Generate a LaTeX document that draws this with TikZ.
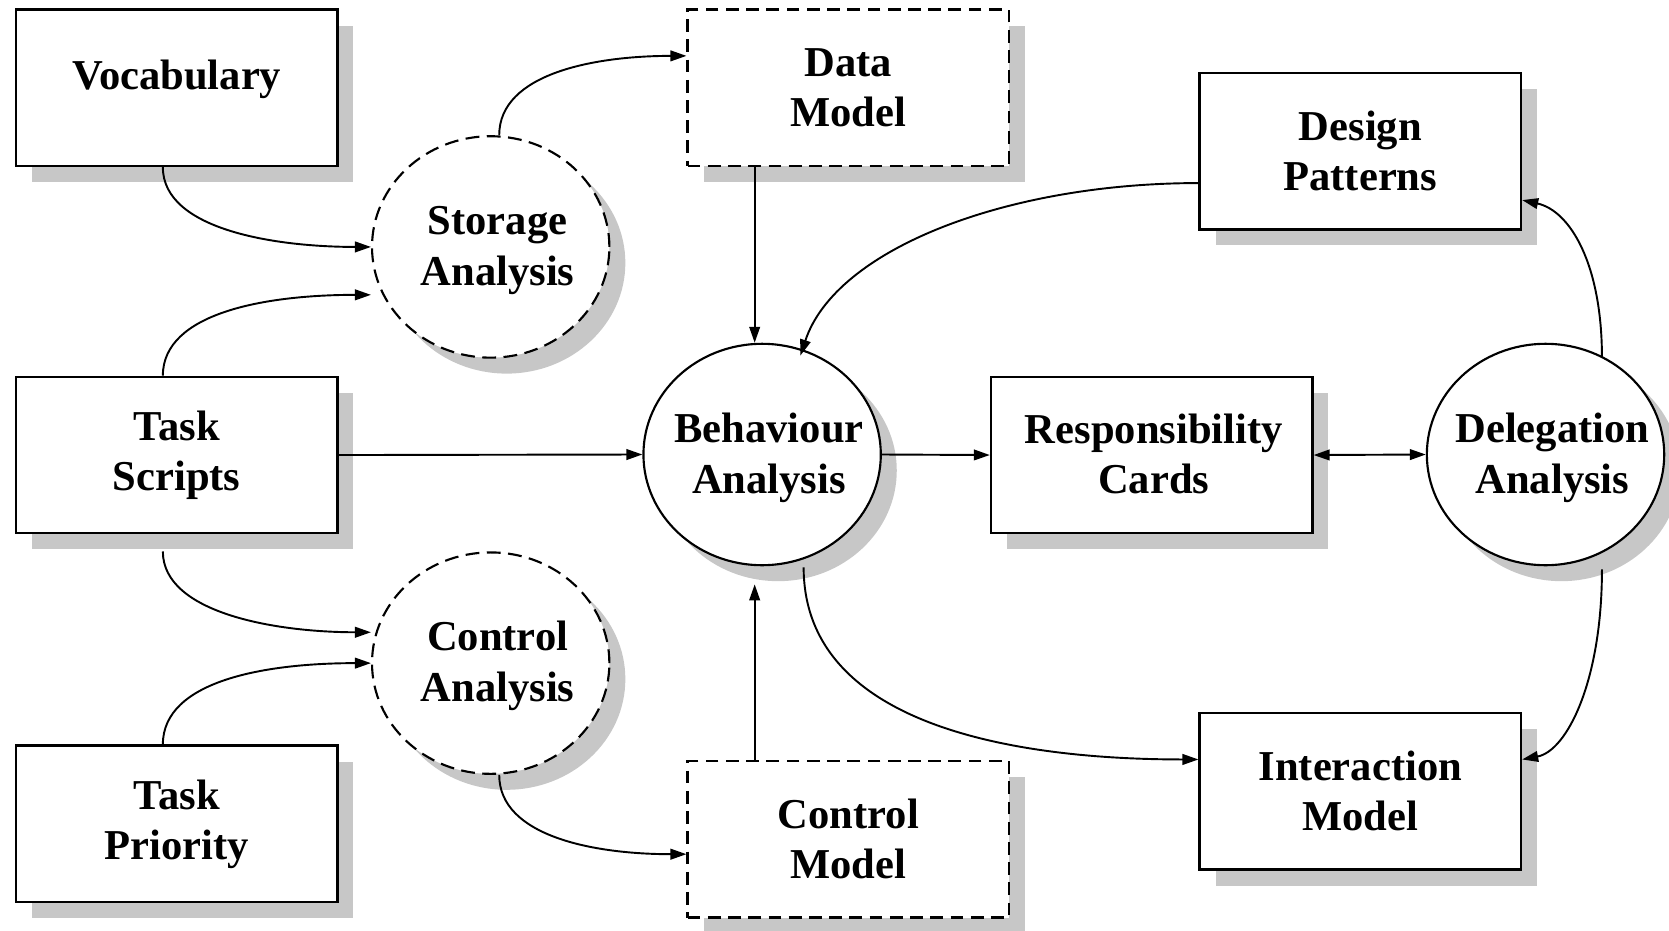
\documentclass[tikz,border=0pt]{standalone}
\usepackage{fontspec}
\setmainfont{Liberation Serif}
\usetikzlibrary{arrows.meta,shapes.geometric,shadows}

% two-line label, moved right by #1 and lowered a little inside its node
\newcommand\rlabel[2]{\raisebox{-3pt}[\height][\depth]{\begin{tabular}{@{\hspace{#1}}c@{}}#2\end{tabular}}}

\begin{document}
\begin{tikzpicture}[x=1pt,y=-1pt,
  every node/.style={font=\fontsize{40}{47}\selectfont\bfseries, align=center},
  shade/.style={drop shadow={shadow xshift=15pt,shadow yshift=-15pt,fill=black!22,opacity=1}},
  box/.style={shade, draw, fill=white, line width=2.2pt, minimum width=302pt, minimum height=147pt, inner sep=0pt},
  dbox/.style={box, dash pattern=on 12pt off 7pt},
  blob/.style={shade, ellipse, draw, fill=white, line width=2pt, minimum width=223pt, minimum height=208pt, inner xsep=-22pt, inner ysep=0pt},
  dblob/.style={blob, dash pattern=on 13pt off 7pt},
  arr/.style={line width=1.8pt, -{Triangle[length=15pt,width=10pt]}},
  darr/.style={line width=1.8pt, {Triangle[length=15pt,width=10pt]}-{Triangle[length=15pt,width=10pt]}}
]
\useasboundingbox (0,0) rectangle (1568,874);

% rectangular stores and models
\node[box, text height=34pt, text depth=30pt] (voc) at (166,82.5) {Vocabulary};
\node[box] (ts) at (166,427.5) {Task\\Scripts};
\node[box] (tp) at (166,774) {Task\\Priority};
\node[dbox] (dm) at (797,82.5) {Data\\Model};
\node[dbox] (cm) at (797,788.5) {Control\\Model};
\node[box] (dp) at (1278,142) {Design\\Patterns};
\node[box] (rc) at (1082,427.5) {\rlabel{4pt}{Responsibility\\Cards}};
\node[box] (im) at (1278,743.5) {Interaction\\Model};

% analysis activities
\node[dblob] (sa) at (461,232) {\rlabel{13pt}{Storage\\[1pt]Analysis}};
\node[dblob] (ca) at (461,623) {\rlabel{13pt}{Control\\[1pt]Analysis}};
\node[blob] (ba) at (716,427) {\rlabel{13pt}{Behaviour\\[1pt]Analysis}};
\node[blob] (da) at (1452,427) {\rlabel{13pt}{Delegation\\[1pt]Analysis}};

% helper points for the vertical links
\coordinate (dmout) at ([xshift=-88pt]dm.south);
\coordinate (cmout) at ([xshift=-88pt]cm.north);
\coordinate (bin) at ([yshift=-17pt]ba.south);

% left column into storage / control analysis
\draw[arr] ([xshift=-13pt]voc.south) .. controls +(0,59) and +(-89,0) .. (sa.west);
\draw[arr] ([xshift=-13pt]ts.north) .. controls +(0,-59) and +(-99,0) .. ([yshift=-45pt]sa.west);
\draw[arr] ([xshift=-13pt,yshift=-16pt]ts.south) .. controls +(0,58) and +(-89,0) .. ([yshift=29pt]ca.west);
\draw[arr] ([xshift=-13pt]tp.north) .. controls +(0,-60) and +(-99,0) .. (ca.west);

% analysis outputs
\draw[arr] ([xshift=8pt]sa.north) .. controls +(0,-58) and +(-86,0) .. ([yshift=30pt]dm.west);
\draw[arr] ([xshift=8pt]ca.south) .. controls +(0,58) and +(-86,0) .. ([yshift=-14pt]cm.west);

% into behaviour analysis
\draw[arr] (dmout) -- (dmout |- ba.north);
\draw[arr] (cmout) -- (cmout |- bin);
\draw[arr] (ts.east) -- (ba.west);
\draw[arr] ([yshift=-30pt]dp.west) .. controls +(-180,0) and +(33,-100) .. ([xshift=36pt,yshift=93pt]ba.center);

% right part
\draw[arr] (ba.east) -- (rc.west);
\draw[darr] (rc.east) -- (da.west);
\draw[arr] ([xshift=53pt,yshift=91pt]da.center) .. controls +(0,-88) and +(45,10) .. ([yshift=-46pt]dp.east);
\draw[arr] ([xshift=53pt,yshift=-108pt]da.center) .. controls +(0,105) and +(42,-8) .. ([yshift=30pt]im.east);
\draw[arr] ([xshift=39pt,yshift=-106pt]ba.center) .. controls +(0,147) and +(-177,0) .. ([yshift=30pt]im.west);
\end{tikzpicture}
\end{document}
